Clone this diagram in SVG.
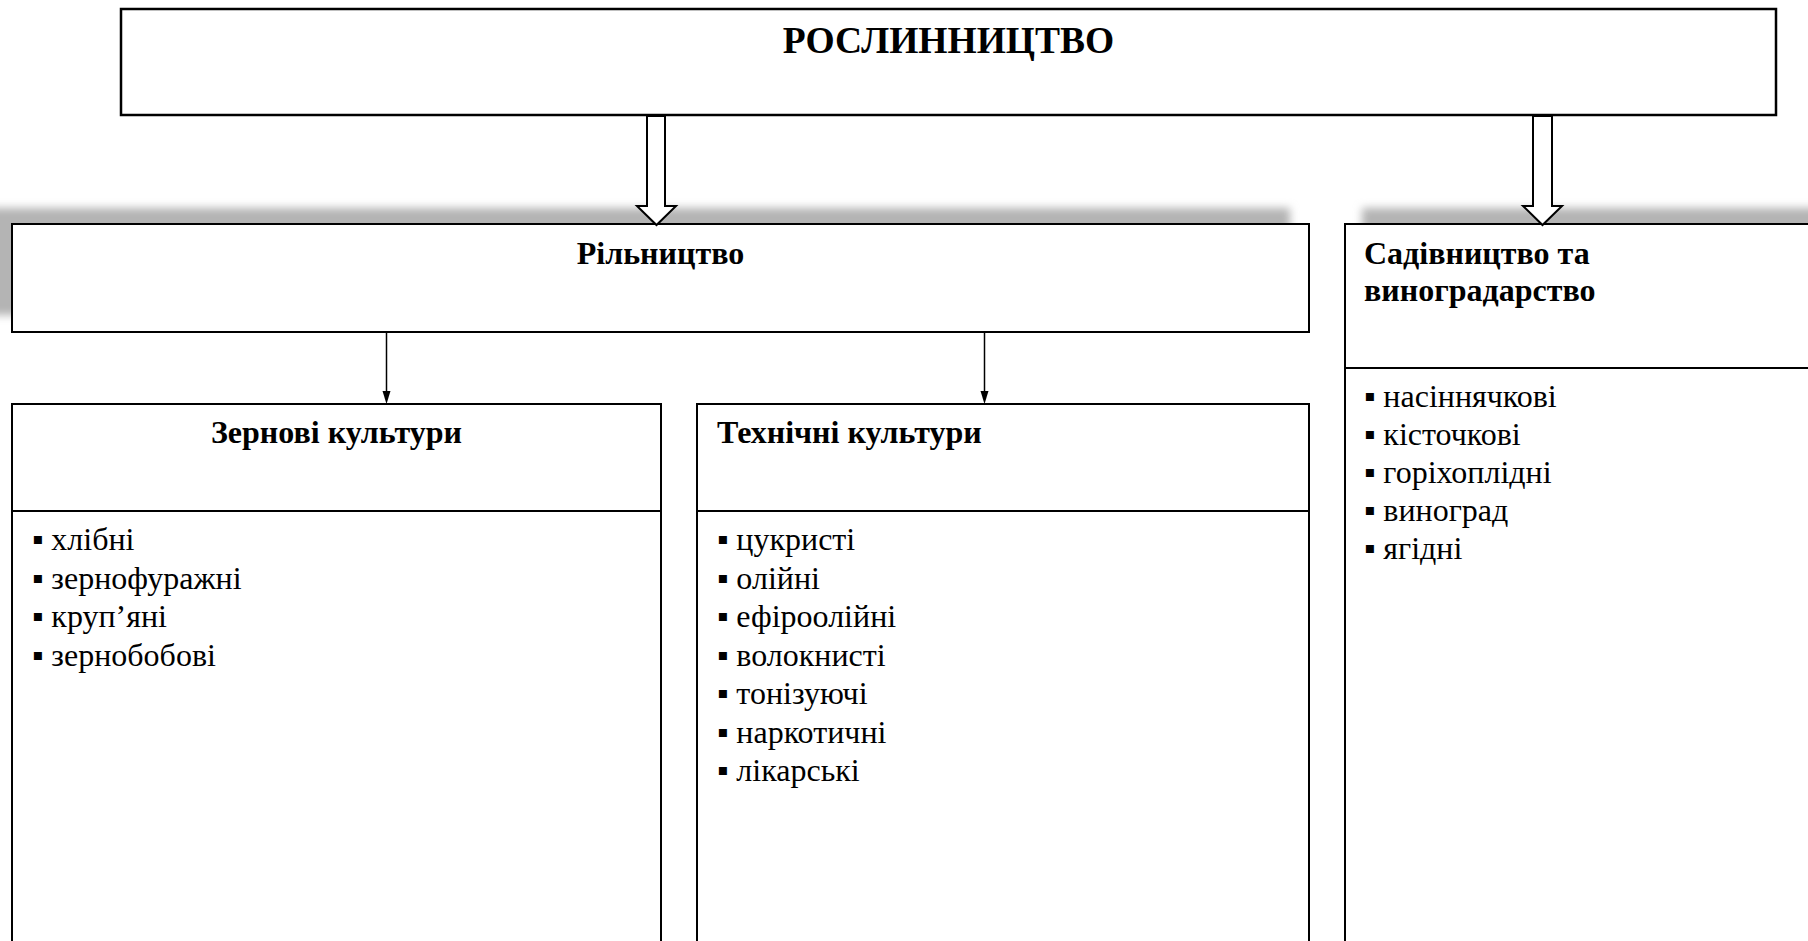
<svg xmlns="http://www.w3.org/2000/svg" width="1808" height="941" viewBox="0 0 1808 941">
<style>
.box{fill:#fff;stroke:#000;stroke-width:2}
.div{stroke:#000;stroke-width:2}
.t{font-family:"Liberation Serif","Times New Roman",serif;font-size:32px;fill:#000}
.b{font-weight:bold}
.mid{text-anchor:middle}
.title{font-size:37.5px}
.thin{stroke:#000;stroke-width:1.5;fill:none}
.dbl{fill:#fff;stroke:#000;stroke-width:2;stroke-linejoin:miter}
</style>
<defs>
<filter id="blur" x="-10%" y="-50%" width="120%" height="200%"><feGaussianBlur stdDeviation="4"/></filter>
</defs>
<rect width="1808" height="941" fill="#fff"/>
<g id="shadows">
<rect x="-20" y="208" width="1310" height="107" fill="#b4b4b4" filter="url(#blur)"/>
<rect x="1362" y="208" width="480" height="200" fill="#b4b4b4" filter="url(#blur)"/>
</g>
<g id="node-roslynnytstvo">
<rect class="box" x="121" y="9" width="1655" height="106" style="stroke-width:2.5"/>
<text class="t b mid title" x="948.5" y="53">РОСЛИННИЦТВО</text>
</g>
<g id="node-rilnytstvo">
<rect class="box" x="12" y="224" width="1297" height="108"/>
<text class="t b mid" x="660.5" y="264">Рільництво</text>
</g>
<g id="node-sadivnytstvo">
<rect class="box" x="1345" y="224" width="490" height="740"/>
<line class="div" x1="1345" y1="368" x2="1835" y2="368"/>
<text class="t b" x="1364" y="264">Садівництво та</text>
<text class="t b" x="1364" y="301">виноградарство</text>
<text class="t" x="1364" y="407">▪ насіннячкові</text>
<text class="t" x="1364" y="445">▪ кісточкові</text>
<text class="t" x="1364" y="483">▪ горіхоплідні</text>
<text class="t" x="1364" y="521">▪ виноград</text>
<text class="t" x="1364" y="559">▪ ягідні</text>
</g>
<g id="node-zernovi">
<rect class="box" x="12" y="404" width="649" height="560"/>
<line class="div" x1="12" y1="511" x2="661" y2="511"/>
<text class="t b mid" x="336.5" y="443">Зернові культури</text>
<text class="t" x="32" y="550">▪ хлібні</text>
<text class="t" x="32" y="588.5">▪ зернофуражні</text>
<text class="t" x="32" y="627">▪ круп’яні</text>
<text class="t" x="32" y="665.5">▪ зернобобові</text>
</g>
<g id="node-tekhnichni">
<rect class="box" x="697" y="404" width="612" height="560"/>
<line class="div" x1="697" y1="511" x2="1309" y2="511"/>
<text class="t b" x="717" y="443">Технічні культури</text>
<text class="t" x="717" y="550">▪ цукристі</text>
<text class="t" x="717" y="588.5">▪ олійні</text>
<text class="t" x="717" y="627">▪ ефіроолійні</text>
<text class="t" x="717" y="665.5">▪ волокнисті</text>
<text class="t" x="717" y="704">▪ тонізуючі</text>
<text class="t" x="717" y="742.5">▪ наркотичні</text>
<text class="t" x="717" y="781">▪ лікарські</text>
</g>
<g id="connectors">
<path class="dbl" d="M647,116 L665,116 L665,206 L676,206 L656.5,225 L637,206 L647,206 Z"/>
<path class="dbl" d="M1533,116 L1552,116 L1552,206 L1562,206 L1542.5,225 L1523,206 L1533,206 Z"/>
<line class="thin" x1="386.5" y1="332" x2="386.5" y2="392"/>
<path d="M382.5,391 L390.5,391 L386.5,404 Z" fill="#000"/>
<line class="thin" x1="984.5" y1="332" x2="984.5" y2="392"/>
<path d="M980.5,391 L988.5,391 L984.5,404 Z" fill="#000"/>
</g>
</svg>
